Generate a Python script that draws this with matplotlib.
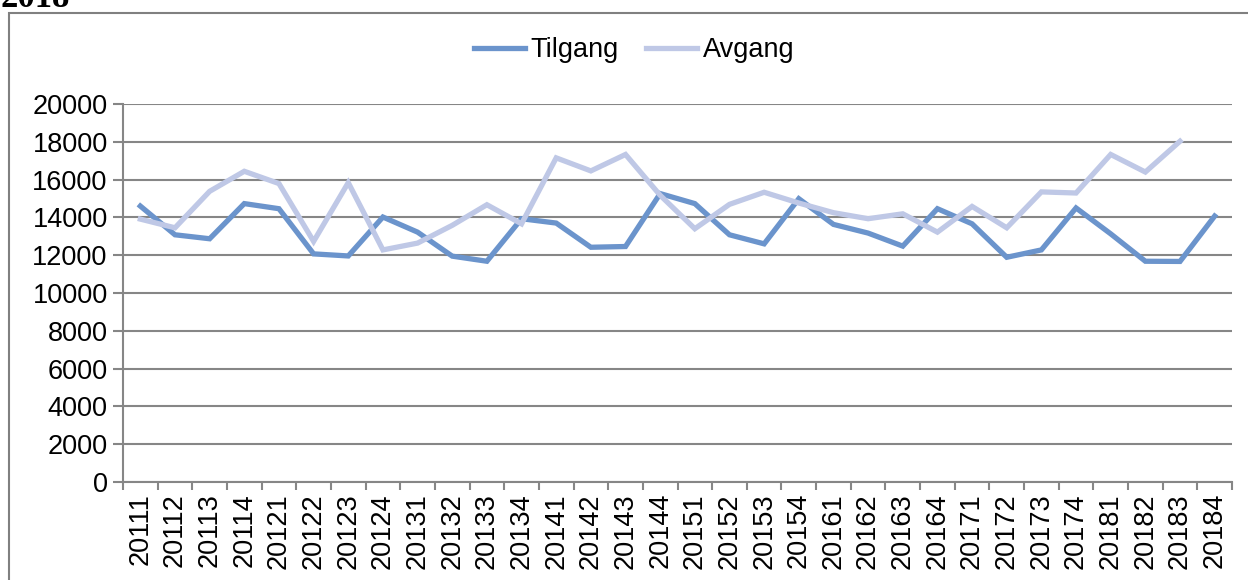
import matplotlib.pyplot as plt
from matplotlib.patches import Rectangle

quarters = ["20111", "20112", "20113", "20114", "20121", "20122", "20123", "20124",
            "20131", "20132", "20133", "20134", "20141", "20142", "20143", "20144",
            "20151", "20152", "20153", "20154", "20161", "20162", "20163", "20164",
            "20171", "20172", "20173", "20174", "20181", "20182", "20183", "20184"]
tilgang = [14600, 13080, 12870, 14730, 14460, 12070, 11960, 14020,
           13220, 11950, 11680, 13930, 13700, 12420, 12460, 15260,
           14730, 13080, 12600, 14990, 13630, 13170, 12480, 14460,
           13660, 11890, 12280, 14500, 13130, 11680, 11670, 14070]
avgang = [13910, 13450, 15380, 16440, 15790, 12730, 15840, 12280,
          12640, 13580, 14670, 13660, 17150, 16460, 17330, 15170,
          13400, 14690, 15330, 14760, 14250, 13930, 14190, 13220,
          14580, 13450, 15350, 15290, 17330, 16400, 18030]

plt.rcParams['font.family'] = ['Liberation Sans', 'DejaVu Sans']
fs = 19.5
grid_col = "#868686"

fig = plt.figure(figsize=(12.48, 5.8), dpi=100)
ax = fig.add_axes([123 / 1248, 1 - 482 / 580, (1232 - 123) / 1248, (482 - 104) / 580])

x = list(range(len(quarters)))
ax.plot(x, tilgang, color="#6B94CC", lw=3.8, label="Tilgang", solid_joinstyle="miter")
ax.plot(x[:len(avgang)], avgang, color="#BFC8E6", lw=3.8, label="Avgang", solid_joinstyle="miter")

ax.set_xlim(-0.5, len(quarters) - 0.5)
ax.set_ylim(0, 20000)
ax.set_yticks(range(0, 20001, 2000))
ax.yaxis.grid(True, color=grid_col, lw=1.5)
ax.set_axisbelow(True)
ax.set_xticks(x)
ax.set_xticklabels(quarters, rotation=90, fontsize=fs)
ax.set_xticks([i - 0.5 for i in range(len(quarters) + 1)], minor=True)
ax.tick_params(axis="x", which="major", length=0, pad=8)
ax.tick_params(axis="x", which="minor", length=6, color=grid_col, width=1.5)
ax.tick_params(axis="y", labelsize=fs, length=7, color=grid_col, width=1.5, pad=4)
for s in ["top", "right"]:
    ax.spines[s].set_visible(False)
for s in ["left", "bottom"]:
    ax.spines[s].set_color(grid_col)
    ax.spines[s].set_linewidth(1.5)

fig.legend(loc="center", bbox_to_anchor=(0.508, 1 - 50 / 580), ncol=2, frameon=False,
           fontsize=fs, handlelength=1.9, columnspacing=1.0, handletextpad=0.2)

fig.patches.append(Rectangle((9 / 1248, -0.05), 1.1, 1 - 13 / 580 + 0.05,
                             transform=fig.transFigure, fill=False,
                             edgecolor="#808080", lw=1.5))
fig.text(0.0, 1 - 7 / 580, "2018", family="Liberation Serif", weight="bold", fontsize=25,
         va="baseline", ha="left")

fig.savefig("out.png", dpi=100)
